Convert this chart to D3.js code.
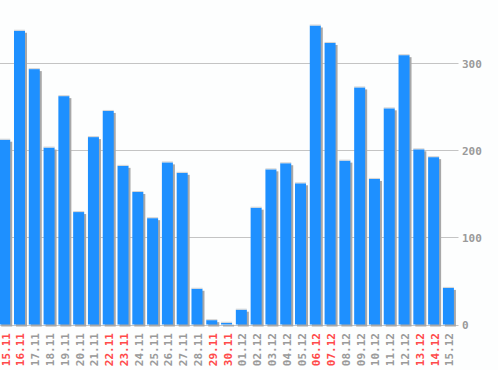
<!DOCTYPE html>
<html>
<head>
<meta charset="utf-8">
<script src="https://cdn.jsdelivr.net/npm/d3@7"></script>
<style>
html,body{margin:0;padding:0;background:#fdfefe;}
svg{display:block;}
</style>
</head>
<body>
<svg id="chart" width="498" height="370"></svg>
<script>
const dates = ["15.11","16.11","17.11","18.11","19.11","20.11","21.11","22.11","23.11","24.11","25.11","26.11","27.11","28.11","29.11","30.11","01.12","02.12","03.12","04.12","05.12","06.12","07.12","08.12","09.12","10.12","11.12","12.12","13.12","14.12","15.12"];
const values = [212,337,293,203,262,129,215,245,182,152,122,186,174,41,5,2,17,134,178,185,162,343,323,188,272,167,248,309,201,192,42];
const weekend = ["15.11","16.11","22.11","23.11","29.11","30.11","06.12","07.12","13.12","14.12"];
const yTicks = [0,100,200,300];

const svg = d3.select("#chart");
svg.append("rect").attr("width",498).attr("height",370).attr("fill","#fdfefe");

const x = d3.scaleBand().domain(dates).range([-2.69, 455.8]).paddingInner(0.256).paddingOuter(0.128);
const y = d3.scaleLinear().domain([0,300]).range([324.5, 63]);

// gridlines
svg.append("g").selectAll("line").data(yTicks).join("line")
  .attr("x1",0).attr("x2",458.5)
  .attr("y1",d=>Math.round(y(d))+0.5).attr("y2",d=>Math.round(y(d))+0.5)
  .attr("stroke","#c4c4c4").attr("stroke-width",1);

// y labels
svg.append("g").selectAll("text").data(yTicks).join("text")
  .attr("x",462).attr("y",d=>y(d)+1)
  .attr("dominant-baseline","central")
  .attr("font-family","'DejaVu Sans Mono', monospace")
  .attr("font-weight","bold")
  .attr("font-size","11px")
  .attr("fill","#9a9a9a")
  .text(d=>d);

const base = y(0);
const bars = svg.append("g");
const data = dates.map((d,i)=>({d, v: values[i]}));
// shadows
bars.selectAll("rect.sh").data(data).join("rect").attr("class","sh")
  .attr("x",d=>x(d.d)+2).attr("y",d=>y(d.v)+2)
  .attr("width",x.bandwidth()).attr("height",d=>Math.max(0,base - y(d.v)))
  .attr("fill","#a8a8a8");
// bars
bars.selectAll("rect.b").data(data).join("rect").attr("class","b")
  .attr("x",d=>x(d.d)).attr("y",d=>y(d.v))
  .attr("width",x.bandwidth()).attr("height",d=>Math.max(0,base - y(d.v)))
  .attr("fill","#1e90ff");
// caps
bars.selectAll("rect.c").data(data).join("rect").attr("class","c")
  .attr("x",d=>x(d.d)).attr("y",d=>y(d.v)-1)
  .attr("width",x.bandwidth()).attr("height",1)
  .attr("fill","#d4d4d4");

// x labels
svg.append("g").selectAll("text").data(dates).join("text")
  .attr("transform",d=>`translate(${x(d)+x.bandwidth()/2+1.5},333) rotate(-90)`)
  .attr("text-anchor","end")
  .attr("dominant-baseline","central")
  .attr("font-family","'DejaVu Sans Mono', monospace")
  .attr("font-weight","bold")
  .attr("font-size","11px")
  .attr("fill",d=>weekend.includes(d)?"#ff4a4a":"#9a9a9a")
  .text(d=>d);
</script>
</body>
</html>
